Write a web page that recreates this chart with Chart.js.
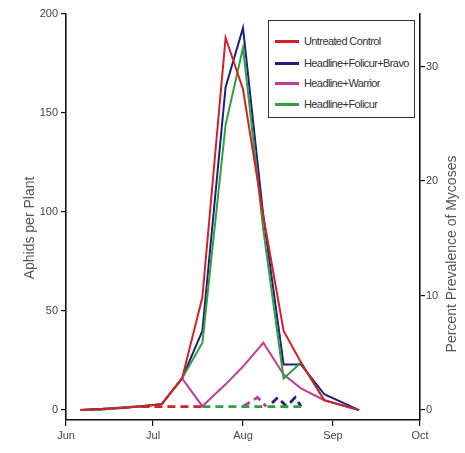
<!DOCTYPE html>
<html>
<head>
<meta charset="utf-8">
<script src="https://cdn.jsdelivr.net/npm/chart.js@4/dist/chart.umd.min.js"></script>
<style>
  html, body { margin: 0; padding: 0; background: #fff; }
  #wrap { position: relative; width: 465px; height: 453px; }
  #legend { position: absolute; left: 268px; top: 20px; width: 147px; height: 98px;
            border: 1px solid #333; box-sizing: border-box; background: #fff;
            font: 11px "Liberation Sans", Arial, sans-serif; color: #333; letter-spacing: -0.6px; }
  .item { position: absolute; left: 6px; height: 14px; line-height: 14px; white-space: nowrap; }
  .swatch { display: inline-block; width: 24px; height: 3px; vertical-align: middle; margin-right: 5px; position: relative; top: -1px; }
</style>
</head>
<body>
<div id="wrap">
  <canvas id="c" width="465" height="453"></canvas>
  <div id="legend"></div>
</div>
<script>
// ---- data ----
const monthLabels = ['Jun', 'Jul', 'Aug', 'Sep', 'Oct'];
const monthDays = [0, 30, 61, 92, 122];          // days since Jun 1
const aphidTicks = [0, 50, 100, 150, 200];
const mycosisTicks = [0, 10, 20, 30];

const seriesNames = ['Untreated Control', 'Headline+Folicur+Bravo', 'Headline+Warrior', 'Headline+Folicur'];

const sampleDays   = [5, 12, 19, 26, 33, 40, 47, 55, 61, 68, 75, 81, 89, 101];
const untreated    = [0, 0.5, 1, 2, 3, 16, 57, 188, 162, 98, 40, 24, 5, 0];
const folicurBravo = [0, 0.5, 1, 2, 3, 16, 40, 163, 193, 98, 23, 23, 8, 0];
const warrior      = [0, 0.5, 1, 2, 3, 16, 2, 13, 22, 34, 18, 11, 5, 0];
const folicur      = [0, 0, 1.5, 2, 3, 16, 34, 144, 183, 91, 16, 24, 5, 0];

// percent prevalence of mycoses (dashed, right axis)
const untreatedMycDays = [26, 33, 40, 47];
const untreatedMyc     = [0.3, 0.3, 0.3, 0.3];
const folicurMycDays   = [47, 55, 61, 68, 75, 81];
const folicurMyc       = [0.3, 0.3, 0.3, 0.3, 0.3, 0.3];
const warriorMycDays   = [61, 66, 69];
const warriorMyc       = [0.3, 1.1, 0.3];
const bravoMycDays     = [71, 73, 76, 79, 81];
const bravoMyc         = [0.6, 1.1, 0.3, 1.1, 0.3];

const leftTitle = 'Aphids per Plant';
const rightTitle = 'Percent Prevalence of Mycoses';

// ---- styling ----
const colors = ['rgb(212,32,40)', 'rgb(30,32,125)', 'rgb(192,62,150)', 'rgb(48,160,62)'];
const FONT = '"Liberation Sans", Arial, sans-serif';

const pts = (xs, ys) => xs.map((x, i) => ({ x: x, y: ys[i] }));

const solid = (label, data, color) => ({
  label, data, borderColor: color, backgroundColor: color, borderWidth: 2,
  pointRadius: 0, tension: 0, yAxisID: 'y', fill: false
});
const dashed = (data, color) => ({
  label: '', data, borderColor: color, backgroundColor: color, borderWidth: 2.8,
  borderDash: [8, 5], pointRadius: 0, tension: 0, yAxisID: 'y2', fill: false
});

const datasets = [
  solid(seriesNames[0], pts(sampleDays, untreated), colors[0]),
  solid(seriesNames[3], pts(sampleDays, folicur), colors[3]),
  solid(seriesNames[1], pts(sampleDays, folicurBravo), colors[1]),
  solid(seriesNames[2], pts(sampleDays, warrior), colors[2]),
  dashed(pts(untreatedMycDays, untreatedMyc), colors[0]),
  dashed(pts(folicurMycDays, folicurMyc), colors[3]),
  dashed(pts(warriorMycDays, warriorMyc), colors[2]),
  dashed(pts(bravoMycDays, bravoMyc), colors[1])
];

const titlePlugin = {
  id: 'axisTitles',
  afterDraw(chart) {
    const ctx = chart.ctx;
    [[leftTitle, 30, 228], [rightTitle, 452, 254]].forEach(([t, x, y]) => {
      ctx.save();
      ctx.font = '14px ' + FONT;
      ctx.fillStyle = '#555';
      ctx.textAlign = 'center';
      ctx.textBaseline = 'middle';
      ctx.translate(x, y);
      ctx.rotate(-Math.PI / 2);
      ctx.fillText(t, 0, 0);
      ctx.restore();
    });
  }
};

const gridOpt = { display: true, drawOnChartArea: false, drawTicks: true, tickLength: 5, color: '#111', lineWidth: 1.2 };
const borderOpt = { display: true, color: '#111', width: 1.6 };
const tickFont = { family: FONT, size: 11 };

new Chart(document.getElementById('c'), {
  type: 'line',
  data: { datasets },
  options: {
    responsive: false,
    animation: false,
    devicePixelRatio: 1,
    layout: { padding: { top: 14, left: 0, right: 0, bottom: 0 } },
    plugins: { legend: { display: false }, tooltip: { enabled: false } },
    scales: {
      x: {
        type: 'linear', min: 0, max: 122,
        grid: Object.assign({}, gridOpt, { tickLength: 6 }),
        border: borderOpt,
        ticks: { color: '#444', font: tickFont, padding: 3, maxRotation: 0, autoSkip: false,
                 callback: (v) => { const i = monthDays.indexOf(v); return i >= 0 ? monthLabels[i] : ''; } },
        afterBuildTicks: (s) => { s.ticks = monthDays.map(v => ({ value: v })); },
        afterFit: (s) => { s.height = 33; }
      },
      y: {
        type: 'linear', position: 'left', min: -5, max: 200,
        grid: gridOpt, border: borderOpt,
        ticks: { color: '#444', font: tickFont, padding: 3 },
        afterBuildTicks: (s) => { s.ticks = aphidTicks.map(v => ({ value: v })); },
        afterFit: (s) => { s.width = 66; }
      },
      y2: {
        type: 'linear', position: 'right', min: -0.875, max: 34.6,
        grid: gridOpt, border: borderOpt,
        ticks: { color: '#444', font: tickFont, padding: 1 },
        afterBuildTicks: (s) => { s.ticks = mycosisTicks.map(v => ({ value: v })); },
        afterFit: (s) => { s.width = 45; }
      }
    }
  },
  plugins: [titlePlugin]
});

// legend (HTML)
const legend = document.getElementById('legend');
const legendTops = [13, 35, 55, 76];
seriesNames.forEach((name, i) => {
  const d = document.createElement('div');
  d.className = 'item';
  d.style.top = legendTops[i] + 'px';
  d.innerHTML = '<span class="swatch" style="background:' + colors[i] + '"></span>';
  d.appendChild(document.createTextNode(name));
  legend.appendChild(d);
});
</script>
</body>
</html>
